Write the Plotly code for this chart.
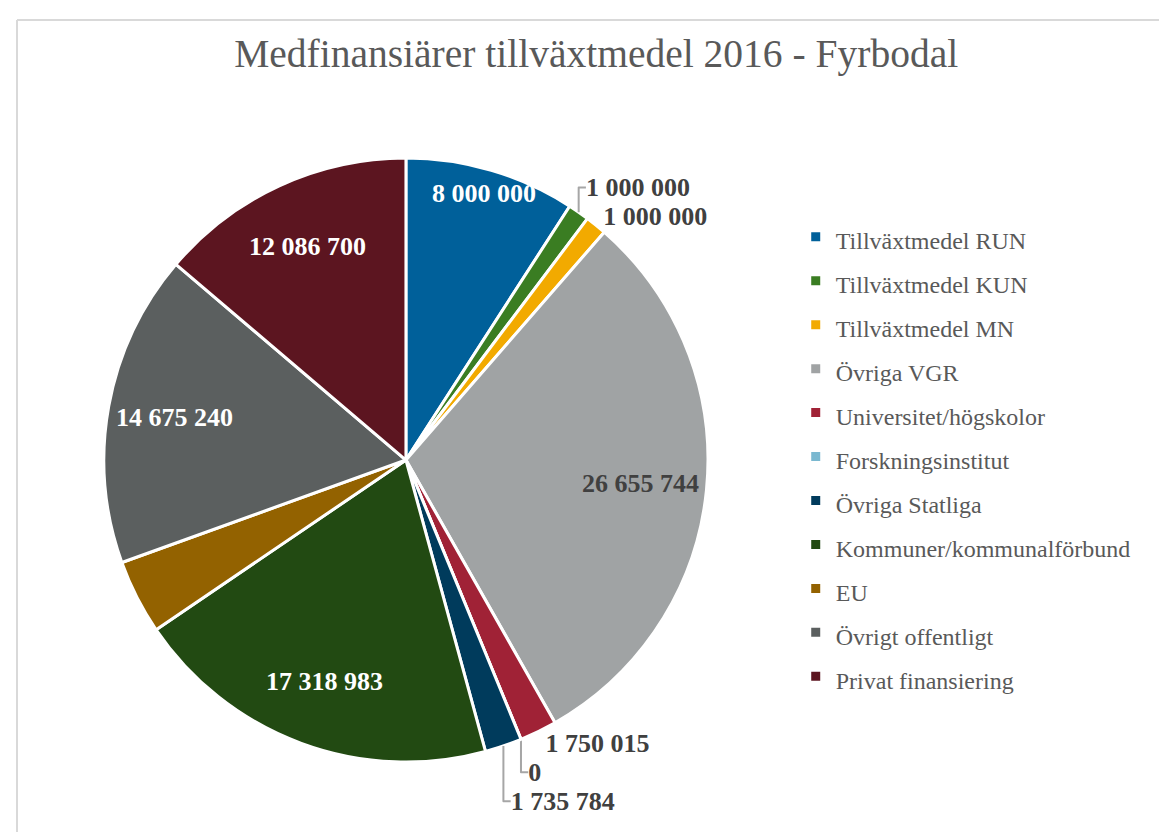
import math
import plotly.graph_objects as go

categories = ["Tillväxtmedel RUN", "Tillväxtmedel KUN", "Tillväxtmedel MN", "Övriga VGR",
              "Universitet/högskolor", "Forskningsinstitut", "Övriga Statliga",
              "Kommuner/kommunalförbund", "EU", "Övrigt offentligt", "Privat finansiering"]
values = [8000000, 1000000, 1000000, 26655744, 1750015, 0, 1735784, 17318983, 3500000, 14675240, 12086700]
show_label = [True, True, True, True, True, True, True, True, False, True, True]

# styles
colors = ["#00609A", "#3A7D22", "#F2AA00", "#A0A3A4", "#A02236", "#7AB8D0", "#003B5C",
          "#224A12", "#936200", "#5B5F5F", "#5C1520"]
label_pos = ["inside", "outside", "outside", "inside", "outside", "outside", "outside",
             "inside", "none", "inside", "inside"]
label_colors = ["white", "#404040", "#404040", "#404040", "#404040", "#404040", "#404040",
                "white", "white", "white", "white"]
inside_radius = {"Tillväxtmedel RUN": 0.92}
default_inside_radius = 0.78

W, H = 1167, 832
dom_x = [0.0822, 0.5998]
dom_y = [0.0937, 0.8197]

texts = [f"{v:,}".replace(",", " ") if s else "" for v, s in zip(values, show_label)]
legend_names = [f'<span style="font-size:24px">{c}</span>' for c in categories]
plot_pos = [p if p == "outside" else "none" for p in label_pos]

fig = go.Figure()
fig.add_trace(go.Pie(
    labels=legend_names,
    values=values,
    text=texts,
    texttemplate="<b><span style='color:#404040'>%{text}</span></b>",
    textposition=plot_pos,
    textfont=dict(family="Liberation Serif", size=26, color="#404040"),
    outsidetextfont=dict(family="Liberation Serif", size=26, color="#A6A6A6"),
    marker=dict(colors=colors, line=dict(color="white", width=3)),
    sort=False,
    direction="clockwise",
    rotation=0,
    domain=dict(x=dom_x, y=dom_y),
    hoverinfo="label+value",
    showlegend=True,
))

# inside labels placed along each slice's mid-angle, derived from the values
total = sum(values)
cx = (dom_x[0] + dom_x[1]) / 2 * W
cy = (dom_y[0] + dom_y[1]) / 2 * H
r = min((dom_x[1] - dom_x[0]) * W, (dom_y[1] - dom_y[0]) * H) / 2
annotations = []
cum = 0.0
for cat, v, t, pos, col in zip(categories, values, texts, label_pos, label_colors):
    mid = (cum + v / 2) / total
    cum += v
    if pos != "inside" or not t:
        continue
    ang = 2 * math.pi * mid
    rr = r * inside_radius.get(cat, default_inside_radius)
    px = cx + rr * math.sin(ang)
    py = cy + rr * math.cos(ang)
    annotations.append(dict(x=px / W, y=py / H, xref="paper", yref="paper",
                            text=f"<b>{t}</b>", showarrow=False,
                            font=dict(family="Liberation Serif", size=26, color=col),
                            xanchor="center", yanchor="middle"))

fig.update_layout(
    width=W, height=H,
    margin=dict(l=0, r=0, t=0, b=0),
    paper_bgcolor="white",
    title=dict(text="Medfinansiärer tillväxtmedel 2016 - Fyrbodal",
               font=dict(family="Liberation Serif", size=39.5, color="#595959"),
               x=0.504, xanchor="center", y=0.946, yanchor="middle"),
    legend=dict(font=dict(family="Liberation Serif", size=31.5, color="#595959"),
                x=0.675, xanchor="left", y=0.7574, yanchor="top",
                bgcolor="rgba(0,0,0,0)"),
    annotations=annotations,
    shapes=[
        dict(type="line", xref="paper", yref="paper", x0=9/W, x1=9/W, y0=0, y1=1-12/H,
             line=dict(color="#D9D9D9", width=2)),
        dict(type="line", xref="paper", yref="paper", x0=9/W, x1=1, y0=1-12/H, y1=1-12/H,
             line=dict(color="#D9D9D9", width=2)),
    ],
)

fig.write_html("out.html")
